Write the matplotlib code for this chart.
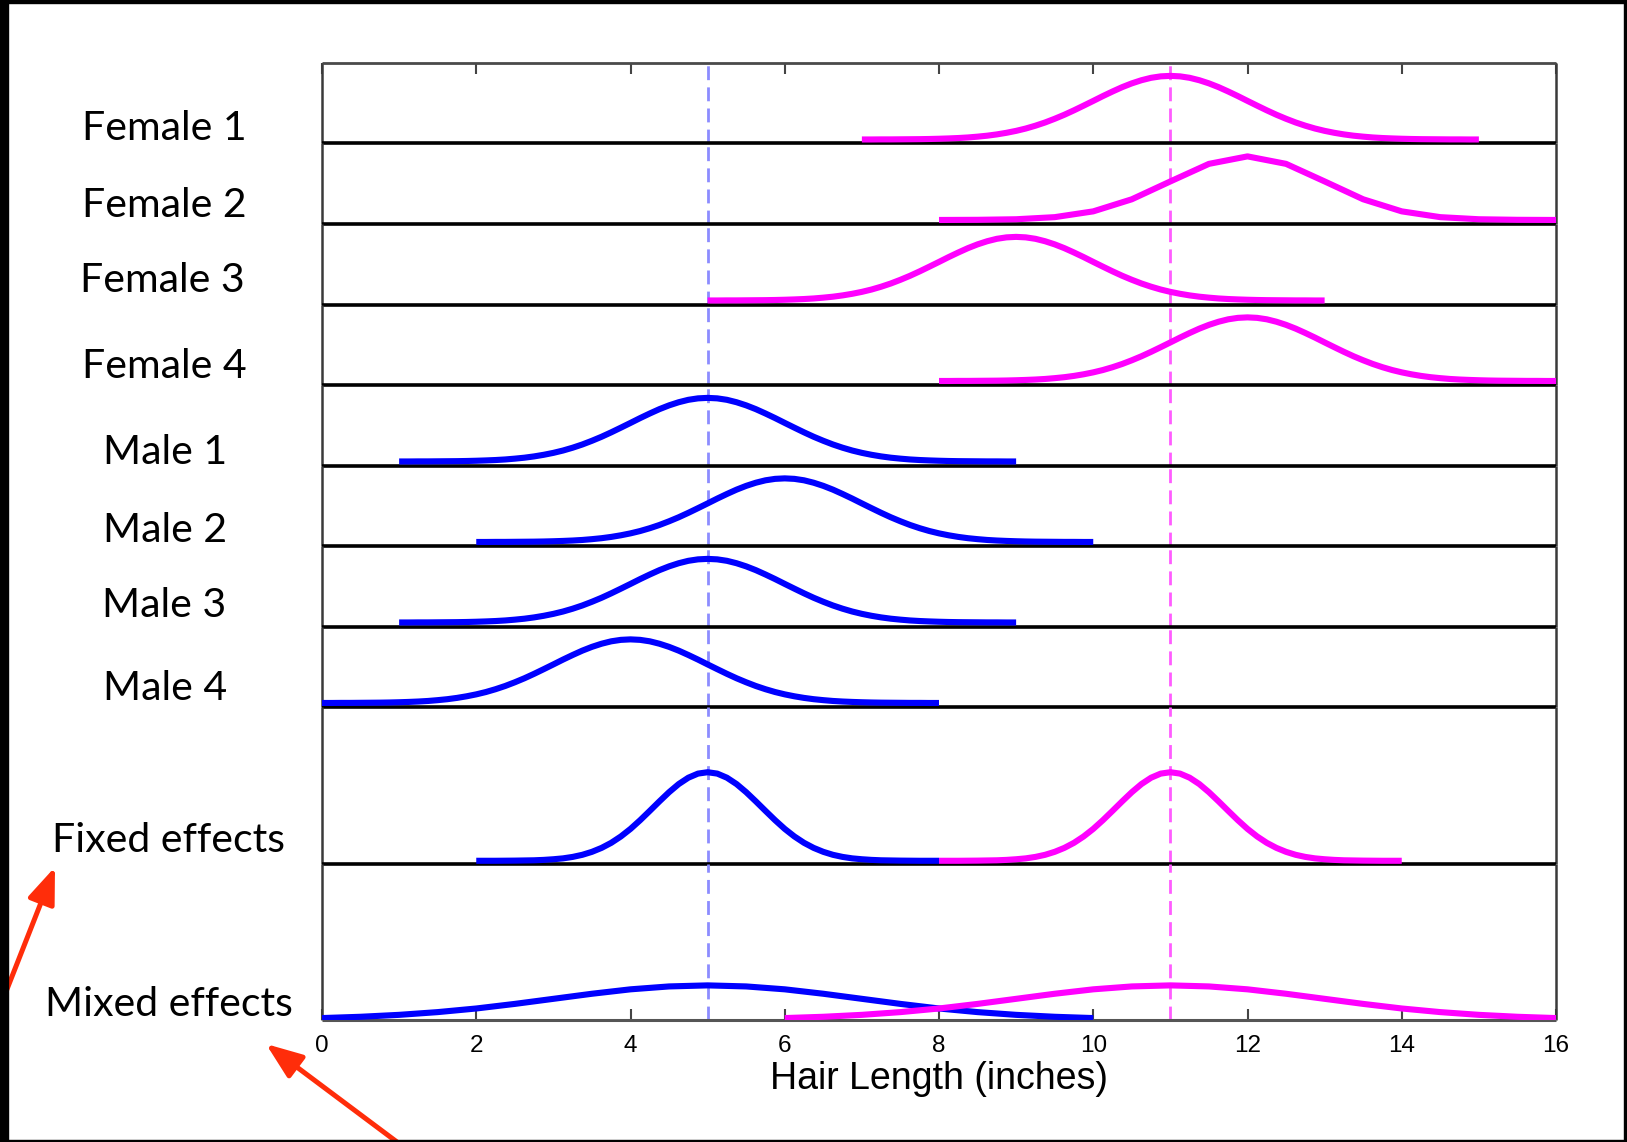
import numpy as np
import matplotlib
matplotlib.use("Agg")
import matplotlib.pyplot as plt
from matplotlib.patches import Rectangle, FancyArrowPatch

# panels (top to bottom)
subjects = ['Female 1', 'Female 2', 'Female 3', 'Female 4',
            'Male 1', 'Male 2', 'Male 3', 'Male 4']
subject_means = [11, 12, 9, 12, 5, 6, 5, 4]
subject_sex = ['f', 'f', 'f', 'f', 'm', 'm', 'm', 'm']
subject_step = [1, 4, 1, 1, 1, 1, 1, 1]   # Female 2 was drawn with coarser sampling

group_means = [5, 11]          # male, female
group_sex = ['m', 'f']

# curve heights (in "row" units, one row = one subject panel)
indiv_offsets = np.arange(-4, 4.001, 0.125)
indiv_half = [0.050, 0.050, 0.051, 0.051, 0.052, 0.053, 0.054, 0.056, 0.059,
              0.063, 0.068, 0.075, 0.085, 0.097, 0.113, 0.133, 0.157, 0.186,
              0.221, 0.261, 0.307, 0.357, 0.412, 0.470, 0.529, 0.589, 0.646,
              0.700, 0.747, 0.786, 0.816, 0.834, 0.840]
indiv_heights = indiv_half + indiv_half[-2::-1]

fixed_offsets = np.arange(-3, 3.001, 0.125)
fixed_half = [0.040, 0.040, 0.040, 0.041, 0.042, 0.044, 0.046, 0.051, 0.059,
              0.070, 0.088, 0.114, 0.151, 0.200, 0.263, 0.342, 0.436, 0.544,
              0.660, 0.778, 0.892, 0.993, 1.072, 1.123, 1.140]
fixed_heights = fixed_half + fixed_half[-2::-1]

mixed_offsets = np.arange(-5, 5.001, 0.5)
mixed_half = [0.024, 0.040, 0.064, 0.098, 0.143, 0.200, 0.263, 0.326, 0.381,
              0.417, 0.430]
mixed_heights = mixed_half + mixed_half[-2::-1]

row_labels = subjects + ['Fixed effects', 'Mixed effects']
xticks = [0, 2, 4, 6, 8, 10, 12, 14, 16]

line_col = {'m': '#0000ff', 'f': '#ff00ff'}
dash_col = {'m': '#8c8cff', 'f': '#ff5cff'}

W, H = 1627, 1142
fig = plt.figure(figsize=(W / 100, H / 100), dpi=100)
fig.patch.set_facecolor('white')

ratios = [80.5] * 8 + [157, 156]
gs = fig.add_gridspec(10, 1, height_ratios=ratios, hspace=0,
                      left=322 / W, right=1556 / W, top=1 - 63 / H, bottom=1 - 1020 / H)
axes = [fig.add_subplot(gs[i, 0]) for i in range(10)]

for i, ax in enumerate(axes):
    ax.patch.set_visible(False)
    ax.set_xlim(0, 16)
    ax.set_ylim(0, ratios[i] / 80.5)
    ax.set_yticks([])
    ax.set_xticks(xticks)
    ax.tick_params(axis='x', which='both', bottom=False, top=False,
                   labelbottom=False, labeltop=False)
    for s in ['left', 'right']:
        ax.spines[s].set_color('#3a3a3a')
        ax.spines[s].set_linewidth(1.8)
    ax.spines['top'].set_visible(i == 0)
    ax.spines['top'].set_color('#4a4a4a')
    ax.spines['top'].set_linewidth(2)
    if i < 9:
        ax.spines['bottom'].set_color('black')
        ax.spines['bottom'].set_linewidth(2.6)
    else:
        ax.spines['bottom'].set_color('#555555')
        ax.spines['bottom'].set_linewidth(2.2)
    for sp in ax.spines.values():
        sp.set_capstyle('butt')
    # dashed group means
    for m, s in zip(group_means, group_sex):
        ax.axvline(m, color=dash_col[s], lw=2, dashes=(5, 2.6), zorder=1)

curve_kw = dict(lw=4.4, zorder=3, solid_capstyle='butt', solid_joinstyle='round')

# subject panels
for i in range(8):
    st = subject_step[i]
    xs = subject_means[i] + indiv_offsets[::st]
    ys = indiv_heights[::st]
    axes[i].plot(xs, ys, color=line_col[subject_sex[i]], **curve_kw)

# fixed and mixed effects
for m, s in zip(group_means, group_sex):
    axes[8].plot(m + fixed_offsets, fixed_heights, color=line_col[s], **curve_kw)
for m, s in zip(group_means, group_sex):
    axes[9].plot(m + mixed_offsets, mixed_heights, color=line_col[s], **curve_kw)

axes[0].tick_params(axis='x', top=True, direction='in', length=8, width=1.5,
                    color='#444444')
axes[9].tick_params(axis='x', bottom=True, labelbottom=True, direction='in',
                    length=8, width=1.5, color='#444444', pad=11, labelsize=17.5)
for t in axes[9].get_xticklabels():
    t.set_fontfamily('Liberation Sans')
axes[9].set_xlabel('Hair Length (inches)', fontsize=27, family='Liberation Sans',
                   labelpad=3)

# row labels (left x, baseline y in pixels from top)
label_x = [82, 82, 80, 82, 103, 103, 102, 103, 52, 45]
label_base = [140, 217, 292, 378, 464, 542, 617, 700, 852, 1016]
for lab, lx, ly in zip(row_labels, label_x, label_base):
    fig.text(lx / W, 1 - ly / H, lab, fontsize=29.5, family='Lato',
             ha='left', va='baseline')

# red arrows
arrow_kw = dict(arrowstyle='-|>,head_length=1.1,head_width=0.42', color='#ff2d0a',
                lw=3.6, shrinkA=0, shrinkB=0)
fig.add_artist(FancyArrowPatch((0, H - 1007), (55, H - 867),
               transform=None, mutation_scale=20, **arrow_kw))
fig.add_artist(FancyArrowPatch((397, 0), (266, H - 1044),
               transform=None, mutation_scale=20, **arrow_kw))

# black frame around the screenshot
for (x0, y0, w, h) in [(0, 0, 8, H), (0, H - 3, W, 3), (W - 3, 0, 3, H), (0, 0, W, 2)]:
    fig.add_artist(Rectangle((x0, y0), w, h, transform=None, color='black', zorder=10))

fig.savefig('out.png', dpi=100)
